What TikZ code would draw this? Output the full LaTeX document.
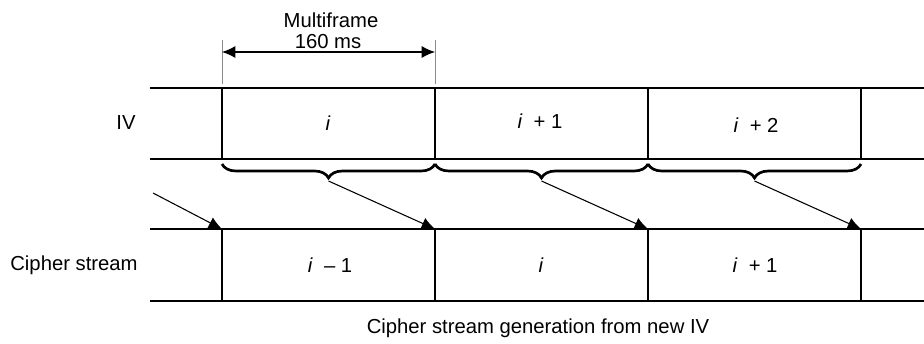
\documentclass[tikz,border=0pt]{standalone}
\usepackage{fontspec}
\setmainfont{Liberation Sans}
\usetikzlibrary{arrows.meta,decorations.pathreplacing,positioning}
\tikzset{
  row/.style={line width=1.7pt},
  guide/.style={line width=0.6pt, draw=black!45},
  span/.style={line width=2pt, decorate, decoration={brace, mirror, amplitude=10.5pt}},
  connect/.style={-{Latex[length=10pt,width=9pt]}, line width=0.8pt},
  dim/.style={{Latex[length=10pt,width=9pt]}-{Latex[length=10pt,width=9pt]}, line width=0.8pt},
  lbl/.style={font=\fontsize{15.2}{18}\selectfont, inner sep=0pt}
}

\begin{document}
\begin{tikzpicture}[x=0.75pt, y=-0.75pt]
  \useasboundingbox (0,0) rectangle (924,343);

  % IV row
  \coordinate (ivTL) at (150,88);   \coordinate (ivTR) at (924,88);
  \coordinate (ivBL) at (150,159);  \coordinate (ivBR) at (924,159);
  \coordinate (t1) at (222,88);  \coordinate (b1) at (222,159);
  \coordinate (t2) at (435,88);  \coordinate (b2) at (435,159);
  \coordinate (t3) at (648,88);  \coordinate (b3) at (648,159);
  \coordinate (t4) at (861,88);  \coordinate (b4) at (861,159);
  \draw[row] (ivTL) -- (ivTR);
  \draw[row] (ivBL) -- (ivBR);
  \draw[row] (t1) -- (b1);
  \draw[row] (t2) -- (b2);
  \draw[row] (t3) -- (b3);
  \draw[row] (t4) -- (b4);

  % cipher stream row
  \coordinate (csTL) at (150,229);  \coordinate (csTR) at (924,229);
  \coordinate (csBL) at (150,301);  \coordinate (csBR) at (924,301);
  \coordinate (c1) at (222,229);  \coordinate (d1) at (222,301);
  \coordinate (c2) at (435,229);  \coordinate (d2) at (435,301);
  \coordinate (c3) at (648,229);  \coordinate (d3) at (648,301);
  \coordinate (c4) at (861,229);  \coordinate (d4) at (861,301);
  \draw[row] (csTL) -- (csTR);
  \draw[row] (csBL) -- (csBR);
  \draw[row] (c1) -- (d1);
  \draw[row] (c2) -- (d2);
  \draw[row] (c3) -- (d3);
  \draw[row] (c4) -- (d4);

  % multiframe length
  \coordinate (m1) at (222,40);  \coordinate (n1) at (222,84);
  \coordinate (m2) at (435,40);  \coordinate (n2) at (435,84);
  \coordinate (a1) at (222,52);  \coordinate (a2) at (435,52);
  \draw[guide] (m1) -- (n1);
  \draw[guide] (m2) -- (n2);
  \draw[dim] (a1) -- (a2);
  \node[lbl] (mf) at (331,20) {Multiframe};
  \node[lbl] (ms) at (328,42) {160 ms};

  % braces
  \coordinate (s1) at (222,164);  \coordinate (s2) at (435,164);
  \coordinate (s3) at (648,164);  \coordinate (s4) at (861,164);
  \draw[span] (s1) -- (s2);
  \draw[span] (s2) -- (s3);
  \draw[span] (s3) -- (s4);

  % IV to cipher stream
  \coordinate (k0) at (153,193);
  \coordinate (k1) at (328.5,181);
  \coordinate (k2) at (541.5,181);
  \coordinate (k3) at (754.5,181);
  \draw[connect] (k0) -- (c1);
  \draw[connect] (k1) -- (c2);
  \draw[connect] (k2) -- (c3);
  \draw[connect] (k3) -- (c4);

  % labels
  \node[lbl] (iv) at (126,123) {IV};
  \node[lbl] (iv1) at (328,123) {\textit{i}};
  \node[lbl] (iv2) at (540,121) {\textit{i}\ \ + 1};
  \node[lbl] (iv3) at (756,125) {\textit{i}\ \ + 2};
  \node[lbl] (cs) at (74,265) {Cipher stream};
  \node[lbl] (cs1) at (330,265) {\textit{i}\ \ -- 1};
  \node[lbl] (cs2) at (541,265) {\textit{i}};
  \node[lbl] (cs3) at (755,265) {\textit{i}\ \ + 1};
  \node[lbl] (cap) at (538,328) {Cipher stream generation from new IV};
\end{tikzpicture}
\end{document}
